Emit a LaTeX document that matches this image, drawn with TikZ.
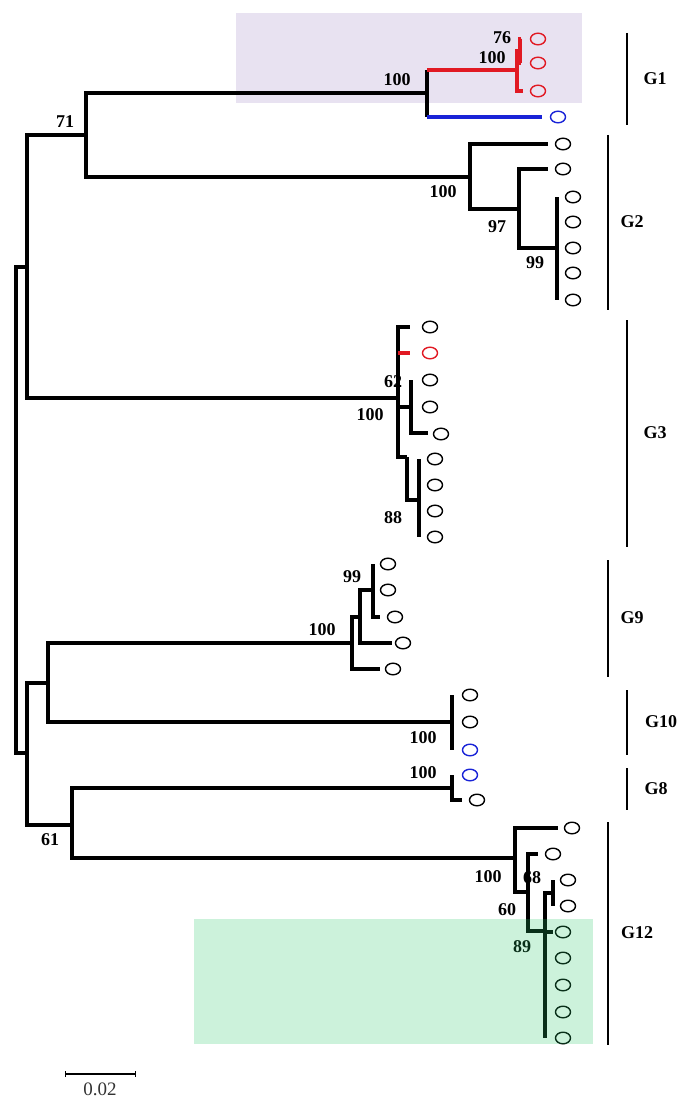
\documentclass[tikz,border=0pt]{standalone}
\usepackage{fontspec}
\setmainfont{Liberation Serif}
\usetikzlibrary{
    arrows.meta,
    positioning,
    shapes.geometric
}
\definecolor{TreeRed}{RGB}{225,25,35}
\definecolor{TreeBlue}{RGB}{25,35,215}
\definecolor{LightLilac}{RGB}{232,226,241}
\definecolor{MintGreen}{RGB}{40,200,105}

\begin{document}
\begin{tikzpicture}[
    x=0.5pt,
    y=-0.5pt,
    branch/.style={line width=1.75pt},
    leaf/.style={draw, ellipse, line width=0.7pt, minimum width=7.5pt, minimum height=5.8pt, inner sep=0pt},
    boot/.style={font=\fontsize{9}{10}\selectfont\bfseries, inner sep=0pt},
    clade/.style={font=\fontsize{9}{10}\selectfont\bfseries, inner sep=0pt},
    cladebar/.style={line width=0.65pt}
]

\useasboundingbox (0,0) rectangle (692,1107);

\fill[LightLilac] (236,13) rectangle (582,103);

% internal nodes
\coordinate (root) at (16,510);
\coordinate (nA) at (27,267);
\coordinate (nB) at (27,753);
\coordinate (n71) at (86,135);
\coordinate (g1n) at (427,93);
\coordinate (g1r) at (517,70);
\coordinate (n76) at (520,51);
\coordinate (g2n) at (470,177);
\coordinate (n97) at (519,209);
\coordinate (n99) at (557,248);
\coordinate (g3n) at (398,398);
\coordinate (n62) at (411,407);
\coordinate (g3c) at (407,457);
\coordinate (n88) at (419,500);
\coordinate (n48) at (48,683);
\coordinate (g9n) at (352,643);
\coordinate (g9a) at (360,617);
\coordinate (n99b) at (373,590);
\coordinate (g10n) at (452,722);
\coordinate (n61) at (72,825);
\coordinate (g8n) at (452,788);
\coordinate (g12n) at (515,858);
\coordinate (n60) at (528,892);
\coordinate (n89) at (545,931);
\coordinate (n68) at (553,893);

\draw[branch] (root) |- (nA);
\draw[branch] (root) |- (nB);
\draw[branch] (nA) |- (n71);
\draw[branch] (nA) |- (g3n);
\draw[branch] (nB) |- (n48);
\draw[branch] (nB) |- (n61);

% G1
\coordinate (tr1) at (521,39);
\coordinate (tr2) at (521,63);
\coordinate (tr3) at (523,91);
\coordinate (tb1) at (542,117);
\draw[branch] (n71) |- (g1n);
\draw[branch] (g1n |- g1r) -- (g1n |- tb1);
\draw[branch, TreeRed] (g1n |- g1r) -- (g1r);
\draw[branch, TreeBlue] (g1n |- tb1) -- (tb1);
\draw[branch, TreeRed] (g1r) |- (n76);
\draw[branch, TreeRed] (g1r) |- (tr3);
\draw[branch, TreeRed] (n76) |- (tr1);
\draw[branch, TreeRed] (n76) |- (tr2);
\node[leaf, TreeRed] (lr1) at (538,39) {};
\node[leaf, TreeRed] (lr2) at (538,63) {};
\node[leaf, TreeRed] (lr3) at (538,91) {};
\node[leaf, TreeBlue] (lb1) at (558,117) {};

% G2
\coordinate (t2a) at (548,144);
\coordinate (t2b) at (548,169);
\draw[branch] (n71) |- (g2n);
\draw[branch] (g2n) |- (t2a);
\draw[branch] (g2n) |- (n97);
\draw[branch] (n97) |- (t2b);
\draw[branch] (n97) |- (n99);
\node[leaf] (l2a) at (563,144) {};
\node[leaf] (l2b) at (563,169) {};
\foreach \i/\y in {1/197, 2/222, 3/248, 4/273, 5/300} {
    \coordinate (t2c\i) at (557,\y);
    \draw[branch] (n99) |- (t2c\i);
    \node[leaf] (l2c\i) at (573,\y) {};
}

% G3
\coordinate (t3a) at (410,327);
\coordinate (t3r) at (410,353);
\coordinate (t3b) at (411,380);
\coordinate (t3c) at (428,433);
\draw[branch] (g3n) |- (t3a);
\draw[branch] (g3n) |- (g3n |- t3r);
\draw[branch, TreeRed] (g3n |- t3r) -- (t3r);
\draw[branch] (g3n) |- (n62);
\draw[branch] (n62) |- (t3b);
\draw[branch] (n62) |- (t3c);
\draw[branch] (g3n) |- (g3c);
\draw[branch] (g3c) |- (n88);
\node[leaf] (l3a) at (430,327) {};
\node[leaf, TreeRed] (l3r) at (430,353) {};
\node[leaf] (l3b) at (430,380) {};
\node[leaf] (l3m) at (430,407) {};
\node[leaf] (l3c) at (441,434) {};
\foreach \i/\y in {1/459, 2/485, 3/511, 4/537} {
    \coordinate (t3d\i) at (419,\y);
    \draw[branch] (n88) |- (t3d\i);
    \node[leaf] (l3d\i) at (435,\y) {};
}

% G9
\coordinate (t9a) at (373,564);
\coordinate (t9c) at (380,617);
\coordinate (t9d) at (392,643);
\coordinate (t9e) at (380,669);
\draw[branch] (n48) |- (g9n);
\draw[branch] (g9n) |- (g9a);
\draw[branch] (g9n) |- (t9e);
\draw[branch] (g9a) |- (n99b);
\draw[branch] (g9a) |- (t9d);
\draw[branch] (n99b) |- (t9a);
\draw[branch] (n99b) |- (t9c);
\node[leaf] (l9a) at (388,564) {};
\node[leaf] (l9b) at (388,590) {};
\node[leaf] (l9c) at (395,617) {};
\node[leaf] (l9d) at (403,643) {};
\node[leaf] (l9e) at (393,669) {};

% G10
\coordinate (t10a) at (452,695);
\coordinate (t10c) at (452,750);
\draw[branch] (n48) |- (g10n);
\draw[branch] (g10n) |- (t10a);
\draw[branch] (g10n) |- (t10c);
\node[leaf] (l10a) at (470,695) {};
\node[leaf] (l10b) at (470,722) {};
\node[leaf, TreeBlue] (l10c) at (470,750) {};

% G8
\coordinate (t8a) at (452,775);
\coordinate (t8b) at (462,800);
\draw[branch] (n61) |- (g8n);
\draw[branch] (g8n) |- (t8a);
\draw[branch] (g8n) |- (t8b);
\node[leaf, TreeBlue] (l8a) at (470,775) {};
\node[leaf] (l8b) at (477,800) {};

% G12
\coordinate (t12a) at (558,828);
\coordinate (t12b) at (538,854);
\coordinate (t12c) at (553,880);
\coordinate (t12d) at (553,906);
\coordinate (t12e) at (553,932);
\draw[branch] (n61) |- (g12n);
\draw[branch] (g12n) |- (t12a);
\draw[branch] (g12n) |- (n60);
\draw[branch] (n60) |- (t12b);
\draw[branch] (n60) |- (n89);
\draw[branch] (n89) |- (n68);
\draw[branch] (n68) |- (t12c);
\draw[branch] (n68) |- (t12d);
\draw[branch] (n89) |- (t12e);
\node[leaf] (l12a) at (572,828) {};
\node[leaf] (l12b) at (553,854) {};
\node[leaf] (l12c) at (568,880) {};
\node[leaf] (l12d) at (568,906) {};
\node[leaf] (l12e) at (563,932) {};
\foreach \i/\y in {1/958, 2/985, 3/1012, 4/1038} {
    \coordinate (t12f\i) at (545,\y);
    \draw[branch] (n89) |- (t12f\i);
    \node[leaf] (l12f\i) at (563,\y) {};
}

% bootstrap values
\node[boot] (b71) at (65,122) {71};
\node[boot] (b61) at (50,840) {61};
\node[boot] (bg1) at (397,80) {100};
\node[boot] (bg1r) at (492,58) {100};
\node[boot] (b76) at (502,38) {76};
\node[boot] (bg2) at (443,192) {100};
\node[boot] (b97) at (497,227) {97};
\node[boot] (b99) at (535,263) {99};
\node[boot] (b62) at (393,382) {62};
\node[boot] (bg3) at (370,415) {100};
\node[boot] (b88) at (393,518) {88};
\node[boot] (b99b) at (352,577) {99};
\node[boot] (bg9) at (322,630) {100};
\node[boot] (bg10) at (423,738) {100};
\node[boot] (bg8) at (423,773) {100};
\node[boot] (bg12) at (488,877) {100};
\node[boot] (b68) at (532,878) {68};
\node[boot] (b60) at (507,910) {60};
\node[boot] (b89) at (522,947) {89};

% clade bars
\draw[cladebar] (627,33) -- (627,125);
\draw[cladebar] (608,135) -- (608,310);
\draw[cladebar] (627,320) -- (627,547);
\draw[cladebar] (608,560) -- (608,677);
\draw[cladebar] (627,690) -- (627,755);
\draw[cladebar] (627,768) -- (627,810);
\draw[cladebar] (608,822) -- (608,1045);
\node[clade] (G1) at (655,79) {G1};
\node[clade] (G2) at (632,222) {G2};
\node[clade] (G3) at (655,433) {G3};
\node[clade] (G9) at (632,618) {G9};
\node[clade] (G10) at (661,722) {G10};
\node[clade] (G8) at (656,789) {G8};
\node[clade] (G12) at (637,933) {G12};

\fill[MintGreen, fill opacity=0.24] (194,919) rectangle (593,1044);

% scale
\coordinate (sL) at (65,1074);
\coordinate (sR) at (136,1074);
\draw[line width=0.6pt, {Bar[width=3pt]}-{Bar[width=3pt]}] (sL) -- (sR);
\node[font=\fontsize{9.5}{10}\selectfont, text=black!80, inner sep=0pt] (scale) at (100,1089) {0.02};

\end{tikzpicture}
\end{document}
